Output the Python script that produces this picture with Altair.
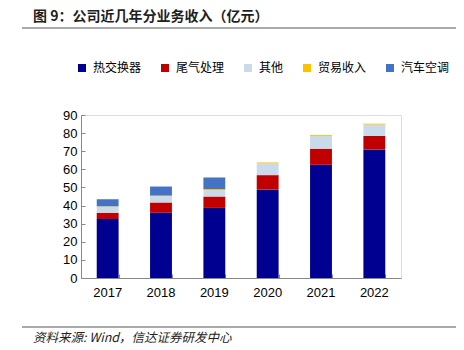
import altair as alt
import pandas as pd

years = ["2017", "2018", "2019", "2020", "2021", "2022"]
heat_exchanger = [32.6, 36.1, 38.7, 48.9, 62.5, 71.0]
exhaust = [3.4, 5.6, 6.3, 7.9, 8.9, 7.4]
other = [3.3, 3.5, 3.5, 6.5, 7.0, 6.3]
trade = [0.3, 0.3, 0.6, 0.5, 0.5, 0.5]
auto_ac = [3.9, 5.0, 6.4, 0.0, 0.0, 0.0]

series_names = ["热交换器", "尾气处理", "其他", "贸易收入", "汽车空调"]
series_colors = ["#000090", "#C00000", "#C9DAEA", "#FFC000", "#4472C4"]
y_ticks = [0, 10, 20, 30, 40, 50, 60, 70, 80, 90]

title_text = "图 9：公司近几年分业务收入（亿元）"
source_text = "资料来源: Wind，信达证券研发中心"

rows = []
for s_idx, (name, vals) in enumerate(zip(series_names, [heat_exchanger, exhaust, other, trade, auto_ac])):
    for y, v in zip(years, vals):
        rows.append({"year": y, "series": name, "value": v, "order": s_idx})
df = pd.DataFrame(rows)

W, H = 320, 163
PL, PT = 81, 115
FONT = "Liberation Sans"
CJK = "Noto Sans CJK SC"

x_scale = alt.Scale(domain=years, paddingInner=0.59, paddingOuter=0.295)
y_scale = alt.Scale(domain=[0, 90], nice=False)

bars = alt.Chart(df).mark_bar().encode(
    x=alt.X("year:N", scale=x_scale, sort=years, title=None,
            axis=alt.Axis(labelAngle=0, ticks=False, domainColor="#888888",
                          labelFont=FONT, labelFontSize=13, labelColor="#000000",
                          labelPadding=8)),
    y=alt.Y("value:Q", scale=y_scale, stack="zero", title=None,
            axis=alt.Axis(values=y_ticks, ticks=False, grid=False, domainColor="#888888",
                          labelFont=FONT, labelFontSize=13, labelColor="#000000",
                          labelPadding=4)),
    color=alt.Color("series:N", scale=alt.Scale(domain=series_names, range=series_colors),
                    sort=series_names,
                    legend=alt.Legend(orient="none", legendX=-5, legendY=-53, direction="horizontal",
                                      title=None, symbolType="square", symbolSize=64,
                                      symbolStrokeWidth=0, labelFont=CJK, labelFontSize=12,
                                      labelColor="#000000", labelOffset=5, columnPadding=17)),
    order=alt.Order("order:Q", sort="ascending"),
)

# inward tick marks using extra axes shifted into the plot
x_ticks_layer = alt.Chart(df).mark_bar(opacity=0).encode(
    x=alt.X("year:N", scale=x_scale, sort=years, title=None,
            axis=alt.Axis(orient="top", offset=-H, labels=False, domain=False,
                          ticks=True, tickBand="extent", tickSize=4, tickColor="#888888")),
)
y_ticks_layer = alt.Chart(pd.DataFrame({"v": y_ticks})).mark_point(opacity=0).encode(
    y=alt.Y("v:Q", scale=y_scale, title=None,
            axis=alt.Axis(orient="right", offset=-W, labels=False, domain=False, values=y_ticks,
                          ticks=True, tickSize=4, tickColor="#888888", grid=False)),
)

title_layer = alt.Chart(pd.DataFrame({"t": [title_text]})).mark_text(
    align="left", baseline="middle", font=CJK, fontSize=14, fontWeight="bold", color="#1F1F1F"
).encode(x=alt.value(33 - PL), y=alt.value(17 - PT), text="t:N")

source_layer = alt.Chart(pd.DataFrame({"t": [source_text]})).mark_text(
    align="left", baseline="middle", font=CJK, fontSize=12.5, fontStyle="italic", color="#222222"
).encode(x=alt.value(33 - PL), y=alt.value(338 - PT), text="t:N")

top_line = alt.Chart(pd.DataFrame({"a": [0]})).mark_rule(color="#555555", strokeWidth=1).encode(
    x=alt.value(22 - PL), x2=alt.value(456 - PL), y=alt.value(28 - PT))
bottom_line = alt.Chart(pd.DataFrame({"a": [0]})).mark_rule(color="#555555", strokeWidth=1).encode(
    x=alt.value(22 - PL), x2=alt.value(456 - PL), y=alt.value(327 - PT))

chart = alt.layer(
    bars, x_ticks_layer, y_ticks_layer, title_layer, source_layer, top_line, bottom_line
).resolve_axis(x="independent", y="independent").properties(
    width=W, height=H,
    autosize=alt.AutoSizeParams(type="none"),
    padding={"left": PL, "top": PT, "right": 464 - PL - W, "bottom": 350 - PT - H},
).configure_view(stroke=None).configure(background="#FFFFFF")

chart.save("out.html", embed_options={"renderer": "svg", "actions": False})
